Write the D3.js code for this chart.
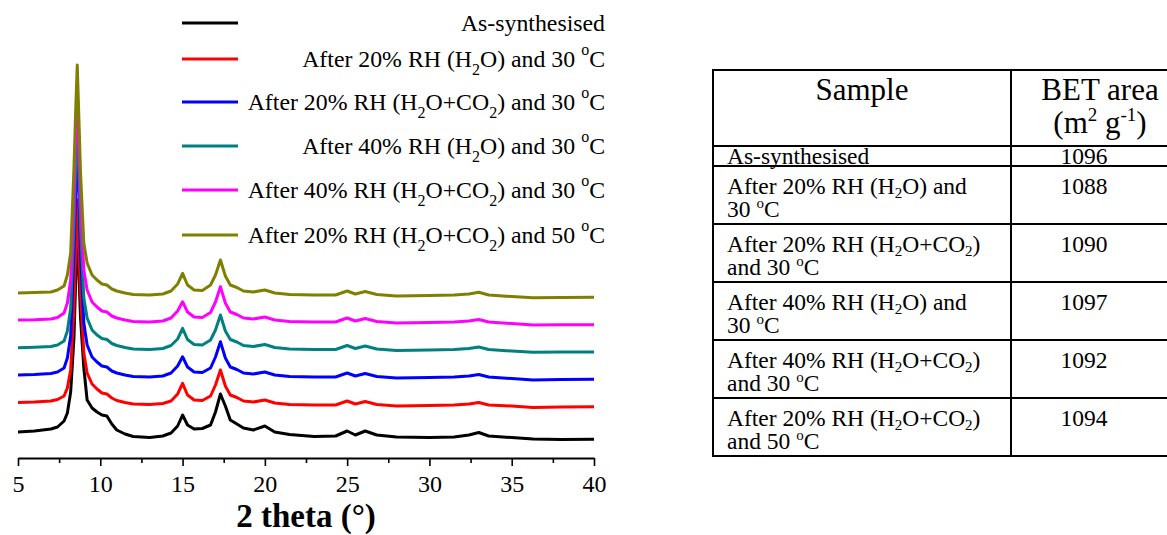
<!DOCTYPE html>
<html><head><meta charset="utf-8">
<script src="https://cdn.jsdelivr.net/npm/d3@7"></script>
<style>
body{margin:0;background:#fff}
text{font-family:"Liberation Serif","Times New Roman",serif;fill:#000}
</style>
</head><body><svg id="c" width="1167" height="535"></svg>
<script>
// ---------------- data ----------------
const twoTheta = [5,6,7,7.4,7.8,8.0,8.2,8.4,8.5,8.6,8.7,8.8,9.0,9.2,9.5,9.8,10.1,10.4,10.7,11.0,11.5,12.0,13.0,13.8,14.3,14.7,15.0,15.3,15.7,16.2,16.7,17.0,17.3,17.6,17.9,18.3,18.7,19.3,20.0,20.6,21.5,23,24.3,25.0,25.5,26.1,26.8,28,30,31.5,32.4,33.0,33.6,35,36.3,38,40];

// intensities as plotted (stacked, arbitrary units)
const asSynthesised = [26,27,29,31,37,45,66,120,175,231,185,140,90,58,50,46,43,42,34,28,24,21.5,20.5,22,25,32,43,33,29,29.5,33,46,64,52,38,34,30,28,32,26,23.5,21.5,22,27,23,27,23,21,20.5,21,23,25.5,22,20.5,19,18.5,18.7];
const rh20H2O30 = [55.5,56,57,58.5,62,70,88,150,205,258,210,165,105,85,74,69,65,64,60,57.5,55.5,54,53.5,54.5,57,64,74.7,63,58,57.5,62,73,88,72,63,60.5,57,56,58,55,53.5,53,53,57,54,56.5,53.5,52,52.5,53,54,55.5,53,52,50.5,51,51.3];
const rh20H2OCO230 = [83,83.5,84.5,86,90,100,122,205,265,318,262,205,135,113,101,96,92,91,87,85,83,81.5,81,82,85,92,101.3,91,86,85.5,90,101,116.3,100,91,88.5,85,84,86,83,81.5,81,81,85,82,84.5,81.5,80,80.5,81,82,83.5,81,79.5,78,78.5,78.7];
const rh40H2O30 = [110.3,110.8,111.5,113,117,127,150,230,290,340,287,230,160,140,128,123,119.5,118.5,114.5,112.5,110.5,109,108.5,109.5,112.5,119,129.7,118.5,113.5,113,118,128,143,127,118.5,116,112.5,111.5,113.5,110.5,109,108.5,108.5,112.5,109.5,112,109,107.5,108,108.5,109.5,111,108.5,107,105.8,106,106];
const rh40H2OCO230 = [138,138.3,139,140.5,145,155,178,262,318,366,314,258,188,168,156,151,147,146,142,140,138,136.5,136,137,140,147,156.3,146,141,140.5,145.5,156,171.3,155,146,143.5,140,139,141,138,136.5,136,136,140,137,139.5,136.5,135,135.5,136,137,138.5,136,134.5,133,133.3,133.3];
const rh20H2OCO250 = [165,165.5,166,168,172,183,205,290,345,393,340,285,215,195,183,178,174,173,169,167,165,163.5,163,164,167,174,184.7,173,168,167.5,173,183,198,182,173,170.5,167,166,168,165,163.5,163,163,167,164,166.5,163.5,162,162.5,163,164,165.7,163,161.5,160.3,160.5,160.7];

const seriesLabels = [
  "As-synthesised",
  "After 20% RH (H_2O) and 30 ^oC",
  "After 20% RH (H_2O+CO_2) and 30 ^oC",
  "After 40% RH (H_2O) and 30 ^oC",
  "After 40% RH (H_2O+CO_2) and 30 ^oC",
  "After 20% RH (H_2O+CO_2) and 50 ^oC"
];
const seriesColors = ["#000000","#ff0000","#0000ff","#008080","#ff00ff","#808000"];

const xMajorTicks = [5,10,15,20,25,30,35,40];
const xMinorTicks = [7.5,12.5,17.5,22.5,27.5,32.5,37.5];
const xTitle = "2 theta (°)";

const tableHeader = [["Sample"],["BET area","(m^2 g^{-1})"]];
const tableSamples = [
  ["As-synthesised"],
  ["After 20% RH (H_2O) and","30 ^oC"],
  ["After 20% RH (H_2O+CO_2)","and 30 ^oC"],
  ["After 40% RH (H_2O) and","30 ^oC"],
  ["After 40% RH (H_2O+CO_2)","and 30 ^oC"],
  ["After 20% RH (H_2O+CO_2)","and 50 ^oC"]
];
const betArea = [1096,1088,1090,1097,1092,1094];

// ---------------- drawing ----------------
const series = [asSynthesised,rh20H2O30,rh20H2OCO230,rh40H2O30,rh40H2OCO230,rh20H2OCO250];
const svg = d3.select("#c");

function rich(sel, str, o){
  const parts = str.split(/(_\{[^}]*\}|\^\{[^}]*\}|_[^{]|\^[^{])/).filter(s=>s.length);
  let shift = 0;
  parts.forEach(p=>{
    let kind=null, t=p;
    if(p[0]==="_"||p[0]==="^"){
      kind = p[0]==="_"?"sub":"sup";
      t = p[1]==="{"? p.slice(2,-1) : p.slice(1);
    }
    const target = kind==="sub"?o.sub:kind==="sup"?o.sup:0;
    const ts = sel.append("tspan").text(t);
    if(target-shift!==0) ts.attr("dy", target-shift);
    if(kind) ts.attr("font-size", o.small);
    shift = target;
  });
}

const x = d3.scaleLinear().domain([5,40]).range([18,594]);
const y = d3.scaleLinear().domain([0,400]).range([458,58]);

// curves
const line = d3.line().x((d,i)=>x(twoTheta[i])).y(d=>y(d));
svg.append("g").selectAll("path").data(series).join("path")
  .attr("d", line).attr("fill","none")
  .attr("stroke",(d,i)=>seriesColors[i]).attr("stroke-width",3)
  .attr("stroke-linejoin","round");

// x axis
const gx = svg.append("g").attr("transform",`translate(0,${y(0)})`);
gx.call(d3.axisBottom(x).tickValues(xMajorTicks).tickFormat(d3.format("d"))
  .tickSize(8).tickSizeOuter(0).tickPadding(9));
gx.selectAll("text").attr("font-size",24);
gx.select(".domain").attr("stroke-width",1.8);
gx.selectAll(".tick line").attr("stroke-width",1.6);
const gm = svg.append("g").attr("transform",`translate(0,${y(0)})`);
gm.call(d3.axisBottom(x).tickValues(xMinorTicks).tickFormat("").tickSize(5).tickSizeOuter(0));
gm.select(".domain").remove();
gm.selectAll(".tick line").attr("stroke-width",1.6);

svg.append("text").attr("x",(x(5)+x(40))/2).attr("y",527)
  .attr("text-anchor","middle").attr("font-size",33).attr("font-weight","bold").text(xTitle);

// legend
const legY = [23,59,102,146,190,235];
const lg = svg.append("g");
seriesLabels.forEach((lab,i)=>{
  lg.append("line").attr("x1",182).attr("x2",238).attr("y1",legY[i]).attr("y2",legY[i])
    .attr("stroke",seriesColors[i]).attr("stroke-width",3);
  const t = lg.append("text").attr("x",605).attr("y",legY[i]+8)
    .attr("text-anchor","end").attr("font-size",23.8);
  rich(t, lab, {sub:8, sup:-12, small:16});
});

// table
const tg = svg.append("g");
const tLeft = 713, tDiv = 1011, tRight = 1172;
const rowH = tableSamples.map(r=> r.length>1 ? 58 : 20);
const rowTop = [146];
rowH.forEach((h,i)=>rowTop.push(rowTop[i]+h));
const hLines = [70].concat(rowTop);
hLines.forEach(v=>tg.append("line").attr("x1",tLeft).attr("x2",tRight).attr("y1",v).attr("y2",v)
  .attr("stroke","#000").attr("stroke-width",2));
[tLeft,tDiv].forEach(v=>tg.append("line").attr("x1",v).attr("x2",v).attr("y1",69).attr("y2",rowTop[rowTop.length-1]+1)
  .attr("stroke","#000").attr("stroke-width",2));

// header
tableHeader[0].forEach((s,j)=>{
  const t = tg.append("text").attr("x",(tLeft+tDiv)/2).attr("y",100+j*33).attr("text-anchor","middle").attr("font-size",31);
  rich(t,s,{sub:5,sup:-12,small:19});
});
tableHeader[1].forEach((s,j)=>{
  const t = tg.append("text").attr("x",1100).attr("y",100+j*33).attr("text-anchor","middle").attr("font-size",31);
  rich(t,s,{sub:5,sup:-12,small:19});
});

tableSamples.forEach((lines,i)=>{
  const top = rowTop[i];
  const base = lines.length>1 ? top+28 : top+18;
  lines.forEach((s,j)=>{
    const t = tg.append("text").attr("x",tLeft+14).attr("y",base+j*23).attr("font-size",23.5);
    rich(t,s,{sub:4,sup:-9,small:15});
  });
  tg.append("text").attr("x",1084).attr("y",base).attr("text-anchor","middle").attr("font-size",23.5).text(betArea[i]);
});
</script>
</body></html>
